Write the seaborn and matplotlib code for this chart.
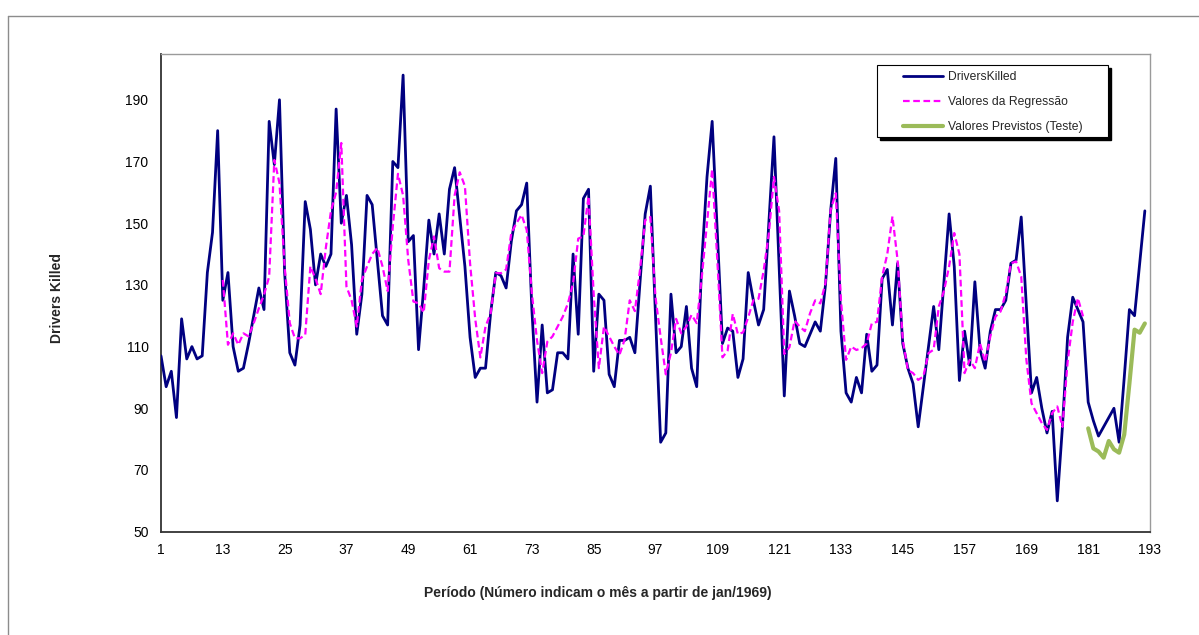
import numpy as np
import pandas as pd
import matplotlib
matplotlib.use("Agg")
import matplotlib.pyplot as plt
from matplotlib.lines import Line2D
from matplotlib.patches import Rectangle
import seaborn as sns

# ---------------- data ----------------
drivers_killed = [
    107, 97, 102, 87, 119, 106, 110, 106, 107, 134, 147, 180,
    125, 134, 110, 102, 103, 111, 120, 129, 122, 183, 169, 190,
    134, 108, 104, 117, 157, 148, 130, 140, 136, 140, 187, 150,
    159, 143, 114, 127, 159, 156, 138, 120, 117, 170, 168, 198,
    144, 146, 109, 129, 151, 140, 153, 140, 161, 168, 152, 136,
    113, 100, 103, 103, 121, 134, 133, 129, 144, 154, 156, 163,
    122, 92, 117, 95, 96, 108, 108, 106, 140, 114, 158, 161,
    102, 127, 125, 101, 97, 112, 112, 113, 108, 131, 153, 162,
    120, 79, 82, 127, 108, 110, 123, 103, 97, 138, 165, 183,
    147, 111, 116, 115, 100, 106, 134, 125, 117, 122, 150, 178,
    136, 94, 128, 120, 111, 110, 114, 118, 115, 130, 154, 171,
    115, 95, 92, 100, 95, 114, 102, 104, 132, 135, 117, 137,
    111, 103, 98, 84, 97, 110, 123, 109, 131, 153, 136, 99,
    115, 104, 131, 109, 103, 115, 122, 122, 125, 137, 138, 152,
    123, 95, 100, 90, 82, 89, 60, 84, 113, 126, 122, 118,
    92, 86, 81, 84, 87, 90, 79, 100, 122, 120, 137, 154,
]
periods = list(range(1, len(drivers_killed) + 1))

regression_start = 13
regression_values = [
    131.6, 110.6, 114.3, 110.6, 114.3, 113.3, 117.6, 122.4, 126.8, 132.7, 170.5, 163.0,
    136.0, 117.6, 112.7, 112.7, 113.8, 136.0, 132.0, 127.0, 142.0, 154.0, 160.0, 176.0,
    129.5, 125.0, 116.5, 131.6, 136.0, 140.0, 142.0, 136.0, 128.0, 149.0, 166.0, 159.0,
    138.0, 124.6, 124.0, 121.0, 138.0, 145.7, 135.4, 134.3, 134.3, 159.0, 166.5, 162.0,
    137.0, 119.0, 106.5, 116.5, 120.8, 133.8, 133.8, 135.0, 146.8, 150.0, 152.7, 147.8,
    127.3, 112.0, 101.4, 111.6, 113.3, 116.5, 119.7, 124.0, 130.6, 145.0, 145.7, 158.7,
    127.0, 103.0, 116.5, 113.3, 110.0, 107.3, 112.2, 125.0, 121.5, 135.0, 151.0, 152.0,
    126.0, 113.0, 101.0, 108.0, 119.0, 114.3, 116.5, 120.3, 117.6, 132.7, 150.0, 167.5,
    138.0, 106.5, 108.7, 120.6, 114.0, 114.6, 119.5, 125.0, 125.5, 134.7, 146.6, 165.0,
    154.0, 107.6, 109.8, 118.4, 116.5, 115.0, 120.8, 125.0, 124.0, 130.6, 154.3, 159.7,
    125.0, 105.7, 110.0, 108.9, 109.5, 111.0, 117.6, 118.0, 132.7, 140.0, 152.2, 138.0,
    112.2, 102.4, 101.4, 99.2, 100.3, 107.9, 109.0, 123.0, 128.0, 136.0, 146.8, 140.0,
    101.4, 105.7, 103.0, 111.0, 105.0, 113.3, 119.7, 121.4, 127.3, 137.0, 137.6, 132.7,
    105.7, 91.6, 88.4, 85.2, 83.0, 88.4, 90.6, 84.0, 105.0, 118.0, 125.7, 119.8,
]
regression_periods = list(range(regression_start, regression_start + len(regression_values)))

forecast_start = 181
forecast_values = [83.5, 77.0, 76.0, 74.0, 79.4, 76.7, 75.6, 81.5, 98.0, 115.5, 114.5, 117.5]
forecast_periods = list(range(forecast_start, forecast_start + len(forecast_values)))

x_ticks = list(range(1, 194, 12))
y_ticks = list(range(50, 191, 20))

series_labels = ["DriversKilled", "Valores da Regressão", "Valores Previstos (Teste)"]
x_label = "Período (Número indicam o mês a partir de jan/1969)"
y_label = "Drivers Killed"

# ---------------- style ----------------
sns.set_style("white")
plt.rcParams["font.family"] = ["Liberation Sans", "DejaVu Sans"]

W, H, DPI = 1199, 635, 100
fig = plt.figure(figsize=(W / DPI, H / DPI), dpi=DPI)
ax = fig.add_axes([161 / W, 1 - 531.7 / H, (1150 - 161) / W, (531.7 - 53.5) / H])

df_dk = pd.DataFrame({"periodo": periods, "valor": drivers_killed})
df_rg = pd.DataFrame({"periodo": regression_periods, "valor": regression_values})
df_fc = pd.DataFrame({"periodo": forecast_periods, "valor": forecast_values})

sns.lineplot(data=df_dk, x="periodo", y="valor", ax=ax, color="#000080",
             linewidth=2.0, label=series_labels[0], zorder=3)
sns.lineplot(data=df_rg, x="periodo", y="valor", ax=ax, color="#FF00FF",
             linewidth=1.6, linestyle=(0, (3, 1.6)), label=series_labels[1], zorder=4)
sns.lineplot(data=df_fc, x="periodo", y="valor", ax=ax, color="#9BBB59",
             linewidth=3.0, label=series_labels[2], zorder=5)

ax.set_xlim(1, 193)
ax.set_ylim(50, 205)
ax.set_xticks(x_ticks)
ax.set_yticks(y_ticks)
ax.set_xlabel("")
ax.set_ylabel("")
ax.tick_params(axis="x", direction="inout", length=8, width=1, colors="#333333",
               labelcolor="black", labelsize=10, pad=4)
ax.tick_params(axis="y", direction="out", length=5, width=1, colors="#333333",
               labelcolor="black", labelsize=10, pad=4)
ax.grid(False)
for side in ["left", "bottom"]:
    ax.spines[side].set_color("#333333")
    ax.spines[side].set_linewidth(1.3)
for side in ["top", "right"]:
    ax.spines[side].set_visible(True)
    ax.spines[side].set_color("#9a9a9a")
    ax.spines[side].set_linewidth(1.0)

fig.text(598 / W, 1 - 593 / H, x_label, ha="center", va="center",
         fontsize=10, fontweight="bold")
fig.text(57 / W, 1 - 298 / H, y_label, ha="center", va="center",
         rotation=90, fontsize=10, fontweight="bold")

# legend as a figure legend, frame drawn separately (Excel-like padding and shadow)
handles, labels = ax.get_legend_handles_labels()
ax.get_legend().remove()
fig.patches.append(Rectangle((880 / W, 1 - 140 / H), (1111 - 880) / W, (140 - 68) / H,
                             transform=fig.transFigure, facecolor="black",
                             edgecolor="black", zorder=10))
fig.patches.append(Rectangle((877 / W, 1 - 137 / H), (1108 - 877) / W, (137 - 65) / H,
                             transform=fig.transFigure, facecolor="white",
                             edgecolor="black", linewidth=0.8, zorder=11))
leg = fig.legend(handles, labels, loc="upper left", bbox_to_anchor=(892 / W, 1 - 60 / H),
                 frameon=False, fontsize=8.7, handlelength=3.3, handletextpad=0.4,
                 labelspacing=1.1, borderpad=0.4)
leg.set_zorder(20)

# outer chart-area border (partially visible in the reference)
fig.lines.append(Line2D([8 / W, 1.0], [1 - 15.5 / H, 1 - 15.5 / H],
                        transform=fig.transFigure, color="#8c8c8c", linewidth=1.0))
fig.lines.append(Line2D([8 / W, 8 / W], [0.0, 1 - 15.5 / H],
                        transform=fig.transFigure, color="#8c8c8c", linewidth=1.0))

fig.savefig("out.png", dpi=DPI, facecolor="white")
